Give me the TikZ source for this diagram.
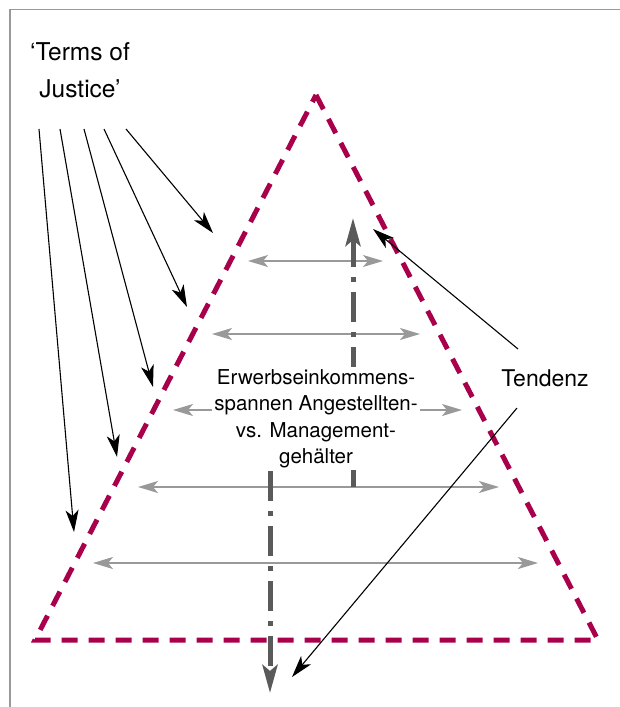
\documentclass[tikz,border=0pt]{standalone}
\usepackage{fontspec}
\setmainfont{TeX Gyre Heros}
\usetikzlibrary{arrows.meta}
\definecolor{wine}{HTML}{A8004A}
\definecolor{darkshaft}{HTML}{5A5A5A}
\definecolor{lightspan}{HTML}{999999}
\tikzset{
  pointer/.style={black, line width=1.1pt, -{Stealth[length=22pt,width=13pt,inset=6pt]}},
  spanarrow/.style={lightspan, line width=1.8pt,
    {Stealth[length=20pt,width=12pt,inset=5pt]}-{Stealth[length=20pt,width=12pt,inset=5pt]}},
  trend/.style={darkshaft, line width=5pt, dash pattern=on 30pt off 10pt on 5pt off 10pt,
    -{Stealth[length=28pt,width=15pt,inset=6pt]}},
  border/.style={wine, line width=5pt, dash pattern=on 16pt off 11pt},
}
\begin{document}
\begin{tikzpicture}[x=1pt,y=-1pt]
    \useasboundingbox (0,0) rectangle (620,707);
    \draw[lightspan, line width=1.2pt] (620,9.5) -- (10,9.5) -- (10,707);
    % triangle
    \coordinate (apex) at (316,95);
    \coordinate (bl) at (35,640);
    \coordinate (br) at (598,640);
    \draw[border] (apex) -- (br) -- (bl) -- cycle;
    % spans
    \foreach \y/\l/\r [count=\i] in {261/248/383, 334/212/420, 410/173/462, 487/138/499, 563/93/538} {
      \coordinate (sl\i) at (\l,\y);
      \coordinate (sr\i) at (\r,\y);
      \draw[spanarrow] (sl\i) -- (sr\i);
    }
    % trends
    \coordinate (upfoot) at (353,487);
    \coordinate (uptip) at (353,218);
    \coordinate (downfoot) at (270,471);
    \coordinate (downtip) at (270,693);
    \draw[trend] (upfoot) -- (uptip);
    \draw[trend] (downfoot) -- (downtip);
    \node[fill=white, inner xsep=2pt, inner ysep=2pt, anchor=north, align=center,
      font=\fontsize{20.5}{26.5}\selectfont] (gap) at (316,367)
      {Erwerbseinkommens-\\spannen Angestellten-\\vs. Management-\\gehälter};
    % labels
    \node[inner sep=0pt, anchor=north, align=center, font=\fontsize{24.5}{37}\selectfont]
      (terms) at (80,42) {‘Terms of\\Justice’};
    \node[inner sep=0pt, font=\fontsize{23}{28}\selectfont] (trendlabel) at (545,378) {Tendenz};
    % pointers
    \foreach \sx/\tx/\ty [count=\i] in {39/74/532, 60/117/457, 84/153/387, 104/187/307, 126/213/233} {
      \coordinate (tj\i) at (\sx,129);
      \coordinate (te\i) at (\tx,\ty);
      \draw[pointer] (tj\i) -- (te\i);
    }
    \coordinate (trendup) at (518,349);
    \coordinate (trenddown) at (517,408);
    \coordinate (trendupend) at (373,229);
    \coordinate (trenddownend) at (292,677);
    \draw[pointer] (trendup) -- (trendupend);
    \draw[pointer] (trenddown) -- (trenddownend);
  \end{tikzpicture}
\end{document}
